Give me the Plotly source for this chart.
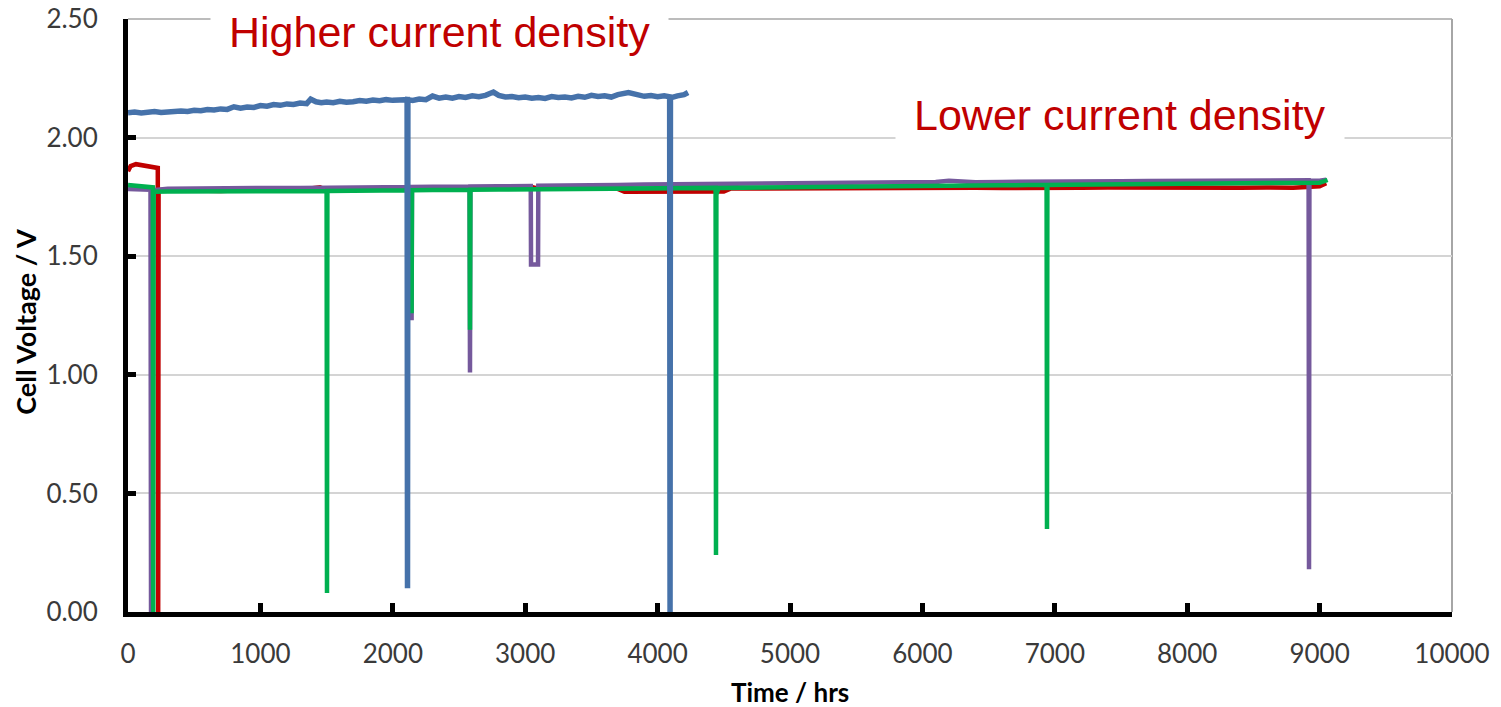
import plotly.graph_objects as go

# ---------------- data ----------------
blue_t = [0, 50, 100, 150, 200, 250, 300, 350, 400, 450, 500, 550, 600, 650, 700, 750, 800, 850,
          900, 950, 1000, 1050, 1100, 1150, 1200, 1250, 1300, 1350, 1380, 1420, 1460, 1500, 1550,
          1600, 1650, 1700, 1750, 1800, 1850, 1900, 1950, 2000, 2050, 2108, 2111, 2114, 2150,
          2200, 2250, 2300, 2350, 2400, 2450, 2500, 2550, 2600, 2650, 2700, 2760, 2800, 2850,
          2900, 2950, 3000, 3050, 3100, 3150, 3200, 3250, 3300, 3350, 3400, 3450, 3500, 3550,
          3600, 3650, 3700, 3780, 3850, 3900, 3950, 4000, 4050, 4091, 4094, 4097, 4150, 4200, 4230]
blue_v = [2.105, 2.108, 2.104, 2.107, 2.110, 2.106, 2.109, 2.107, 2.112, 2.110, 2.115, 2.113,
          2.118, 2.116, 2.121, 2.119, 2.130, 2.124, 2.129, 2.127, 2.135, 2.132, 2.139, 2.136,
          2.142, 2.140, 2.146, 2.143, 2.162, 2.151, 2.147, 2.150, 2.147, 2.153, 2.149, 2.151,
          2.156, 2.153, 2.158, 2.155, 2.160, 2.157, 2.161, 2.160, 0.10, 2.160, 2.157, 2.163,
          2.160, 2.175, 2.166, 2.171, 2.166, 2.173, 2.169, 2.176, 2.172, 2.178, 2.192, 2.178,
          2.171, 2.173, 2.168, 2.171, 2.166, 2.169, 2.165, 2.173, 2.169, 2.171, 2.167, 2.174,
          2.170, 2.178, 2.173, 2.176, 2.171, 2.181, 2.190, 2.179, 2.174, 2.177, 2.172, 2.176,
          2.172, 0.0, 2.168, 2.176, 2.181, 2.190]

red_t = [0, 20, 60, 100, 150, 200, 225, 228, 231, 300, 400, 500, 600, 700, 800, 900, 1000,
         1100, 1200, 1300, 1450, 1500, 1700, 1900, 2100, 2300, 2500, 2700, 2900, 3050, 3100,
         3300, 3500, 3700, 3750, 4000, 4200, 4400, 4500, 4550, 4800, 5000, 5200, 5400, 5600,
         5800, 6000, 6200, 6400, 6600, 6800, 7000, 7200, 7400, 7600, 7800, 8000, 8200, 8400,
         8600, 8800, 9000, 9050]
red_v = [1.858, 1.880, 1.888, 1.884, 1.878, 1.874, 1.872, 0.0, 1.780, 1.779, 1.777, 1.776,
         1.777, 1.775, 1.777, 1.778, 1.777, 1.779, 1.778, 1.780, 1.790, 1.779, 1.780, 1.781,
         1.782, 1.781, 1.783, 1.784, 1.785, 1.792, 1.785, 1.786, 1.785, 1.784, 1.772, 1.772,
         1.773, 1.772, 1.773, 1.785, 1.786, 1.787, 1.788, 1.787, 1.789, 1.788, 1.789, 1.788,
         1.789, 1.787, 1.789, 1.788, 1.789, 1.790, 1.789, 1.790, 1.789, 1.790, 1.789, 1.790,
         1.789, 1.795, 1.808]

purple_t = [0, 100, 170, 174, 178, 300, 500, 700, 900, 1100, 1300, 1500, 1700, 1900, 2100,
            2139, 2142, 2145, 2300, 2450, 2580, 2583, 2586, 2800, 3000, 3042, 3044, 3097, 3099,
            3300, 3500, 3700, 3900, 4100, 4300, 4500, 4700, 4900, 5100, 5300, 5500, 5700, 5900,
            6100, 6200, 6400, 6600, 6800, 7000, 7200, 7350, 7500, 7700, 7900, 8100, 8300, 8500,
            8700, 8900, 8917, 8920, 8923, 9000, 9050]
purple_v = [1.783, 1.782, 1.780, 0.0, 1.778, 1.784, 1.786, 1.785, 1.787, 1.788, 1.788, 1.789,
            1.790, 1.791, 1.792, 1.792, 1.23, 1.792, 1.793, 1.794, 1.794, 1.01, 1.794, 1.795,
            1.796, 1.796, 1.465, 1.465, 1.797, 1.797, 1.798, 1.800, 1.802, 1.803, 1.803, 1.804,
            1.806, 1.806, 1.807, 1.808, 1.809, 1.810, 1.811, 1.813, 1.818, 1.812, 1.813, 1.814,
            1.815, 1.815, 1.820, 1.816, 1.817, 1.818, 1.818, 1.819, 1.820, 1.821, 1.822, 1.820,
            0.18, 1.818, 1.818, 1.822]

green_t = [0, 50, 100, 150, 188, 191, 194, 300, 500, 700, 900, 1100, 1300, 1500, 1503, 1506,
           1700, 1900, 2100, 2139, 2142, 2145, 2300, 2450, 2580, 2583, 2586, 2800, 3000, 3200,
           3400, 3600, 3800, 4000, 4200, 4400, 4438, 4441, 4444, 4460, 4600, 4800, 5000, 5200,
           5400, 5600, 5800, 6000, 6200, 6400, 6600, 6800, 6938, 6941, 6944, 7100, 7300, 7500,
           7700, 7900, 8100, 8300, 8500, 8700, 8900, 9000, 9030, 9060]
green_v = [1.800, 1.798, 1.795, 1.792, 1.790, 0.0, 1.772, 1.773, 1.774, 1.772, 1.773, 1.774,
           1.775, 1.775, 0.08, 1.775, 1.776, 1.777, 1.777, 1.778, 1.26, 1.778, 1.779, 1.780,
           1.780, 1.19, 1.780, 1.781, 1.782, 1.783, 1.783, 1.784, 1.785, 1.786, 1.787, 1.788,
           1.788, 0.24, 1.760, 1.788, 1.789, 1.790, 1.791, 1.792, 1.793, 1.794, 1.795, 1.796,
           1.797, 1.798, 1.799, 1.800, 1.800, 0.35, 1.800, 1.801, 1.802, 1.803, 1.804, 1.805,
           1.805, 1.806, 1.807, 1.808, 1.809, 1.810, 1.815, 1.822]

x_ticks = [0, 1000, 2000, 3000, 4000, 5000, 6000, 7000, 8000, 9000, 10000]
y_ticks = [0.0, 0.5, 1.0, 1.5, 2.0, 2.5]

label_high = "Higher current density"
label_low = "Lower current density"
label_high_pos = (2356, 2.447)
label_low_pos = (7492, 2.095)

# ---------------- figure ----------------
fig = go.Figure()
series = [
    (red_t, red_v, "#c00000", 4.5),
    (purple_t, purple_v, "#75599c", 4.5),
    (green_t, green_v, "#00b050", 4.5),
    (blue_t, blue_v, "#4672aa", 5.5),
]
for t, v, c, w in series:
    fig.add_trace(go.Scatter(x=t, y=v, mode="lines", line=dict(color=c, width=w),
                             showlegend=False, hoverinfo="skip"))

tick_font = dict(family="Lato", size=26, color="#3a3a3a")
fig.update_layout(
    width=1501, height=707,
    margin=dict(l=120, r=57, t=11, b=103, autoexpand=False),
    paper_bgcolor="white", plot_bgcolor="white",
    xaxis=dict(range=[0, 10000], tickvals=x_ticks, ticktext=[str(v) for v in x_ticks],
               showline=True, linecolor="black", linewidth=5,
               ticks="inside", ticklen=9, tickwidth=5, tickcolor="black",
               showgrid=False, zeroline=False, tickfont=tick_font,
               ticklabelstandoff=15, automargin=False, ticklabeloverflow="allow"),
    yaxis=dict(range=[0, 2.5], tickvals=y_ticks, ticktext=["%.2f" % v for v in y_ticks],
               showline=True, linecolor="black", linewidth=5,
               ticks="inside", ticklen=8, tickwidth=5, tickcolor="black",
               showgrid=True, gridcolor="#d4d4d4", gridwidth=1.5, zeroline=False,
               tickfont=tick_font, ticklabelstandoff=20, automargin=False,
               ticklabeloverflow="allow"),
)
# right and top border of plot area
fig.add_shape(type="line", xref="paper", yref="paper", x0=1, x1=1, y0=0, y1=1,
              line=dict(color="#a6a6a6", width=2), layer="below")
fig.add_shape(type="line", xref="paper", yref="paper", x0=0, x1=1, y0=1, y1=1,
              line=dict(color="#a6a6a6", width=1.5), layer="below")

for txt, (ax, ay) in [(label_high, label_high_pos), (label_low, label_low_pos)]:
    fig.add_annotation(x=ax, y=ay, xref="x", yref="y", text=txt, showarrow=False,
                       font=dict(family="Liberation Sans", size=43, color="#c00000"),
                       bgcolor="white", borderpad=18, xanchor="center", yanchor="middle")

fig.add_annotation(x=-0.078, y=0.489, xref="paper", yref="paper", text="<b>Cell Voltage / V</b>",
                   textangle=-90, showarrow=False, font=dict(family="Lato", size=27, color="black"),
                   xanchor="center", yanchor="middle")
fig.add_annotation(x=0.5, y=-0.135, xref="paper", yref="paper", text="<b>Time / hrs</b>",
                   showarrow=False, font=dict(family="Lato", size=26, color="black"),
                   xanchor="center", yanchor="middle")

fig.write_html("out.html")
